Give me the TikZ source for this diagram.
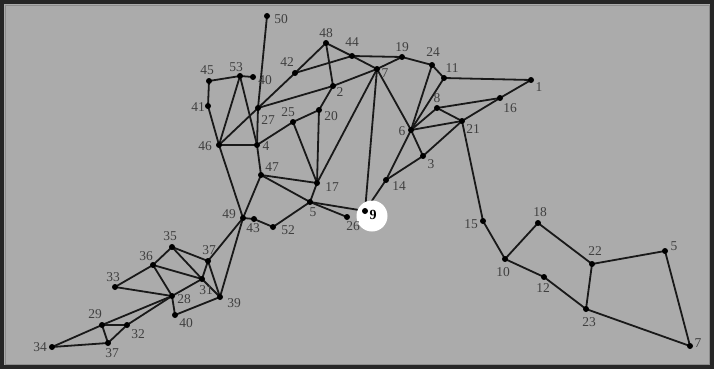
\documentclass[tikz,border=0pt]{standalone}
\usepackage{fontspec}
\setmainfont{Liberation Serif}
\pgfdeclarelayer{edgel}
\pgfsetlayers{edgel,main}
\definecolor{bgc}{rgb}{0.67,0.67,0.67}
\begin{document}
\begin{tikzpicture}[x=1pt,y=-1pt,
  dot/.style={circle,fill=black,inner sep=0pt,minimum size=6pt},
  lbl/.style={font=\fontsize{13.5}{13.5}\selectfont,text=black!75,inner sep=0pt},
  edge/.style={line width=1.8pt,black!90}]
\useasboundingbox (0,0) rectangle (714,369);
\begin{pgfonlayer}{edgel}
\fill[bgc] (0,0) rectangle (714,369);
\draw[line width=4pt,black!85] (2,2) rectangle (712,367);
\draw[line width=0.6pt,black!45] (5,5) rectangle (709,364);
\end{pgfonlayer}
% white disc of node 9
\node[circle,fill=white,minimum size=31pt,inner sep=0pt] (c9) at (372,216) {};
% nodes
\foreach \n/\x/\y in {50/267/16,48/326/43,44/352/56,42/295/73,45/209/81,53/240/76,
  40a/253/77,41/208/106,27/258/108,2/333/86,25/293/122,20/319/110,46/219/145,
  4/257/145,47/261/175,17/317/183,5/310/202,9/365/211,26/347/217,49/243/218,
  43/254/219,52/273/227,14/386/180,7/377/69,19/402/57,24/432/65,11/444/78,
  6/411/130,3/423/156,8/437/108,21/462/121,16/500/98,1/531/80,15/483/221,
  18/538/223,10/505/259,12/544/277,22/592/264,23/586/309,5r/665/251,7r/690/346,
  35/172/247,36/153/265,37a/208/261,31/202/279,28/172/296,39/220/297,33/115/287,
  40b/175/315,29/102/325,32/127/325,37b/108/343,34/52/347}
  {\node[dot] (n\n) at (\x,\y) {};}
% labels
\foreach \n/\t/\x/\y in {50/50/281/19,48/48/326/33,44/44/352/42,42/42/287/62,
  45/45/207/70,53/53/236/67,40a/40/265/80,41/41/198/107,27/27/268/120,2/2/340/92,
  25/25/288/112,20/20/331/116,46/46/205/146,4/4/266/146,47/47/272/167,
  17/17/332/187,5/5/313/212,26/26/353/226,49/49/229/214,43/43/253/228,
  52/52/288/230,14/14/399/186,7/7/385/73,19/19/402/47,24/24/433/52,11/11/452/68,
  6/6/402/131,3/3/431/164,8/8/437/98,21/21/473/129,16/16/510/108,1/1/539/87,
  15/15/471/224,18/18/540/212,10/10/503/272,12/12/543/288,22/22/595/251,
  23/23/589/322,5r/5/674/246,7r/7/698/343,35/35/170/236,36/36/146/256,
  37a/37/209/250,31/31/206/290,28/28/184/299,39/39/234/303,33/33/113/277,
  40b/40/186/323,29/29/95/314,32/32/138/334,37b/37/112/353,34/34/40/347}
  {\node[lbl] (l\n) at (\x,\y) {\t};}
\node[lbl,font=\fontsize{14}{14}\selectfont\bfseries,text=black] (l9) at (373,215) {9};
% edges
\begin{pgfonlayer}{edgel}
\foreach \a/\b in {50/27,27/4,53/40a,45/53,45/41,41/46,53/46,53/4,46/4,46/27,
  27/42,42/48,42/44,48/44,48/2,2/7,27/2,2/20,25/20,4/25,25/17,20/17,44/7,44/19,
  7/19,19/24,24/11,11/1,1/16,16/21,16/8,8/21,11/6,24/6,7/6,8/6,6/21,6/3,3/21,
  14/6,14/3,14/9,7/9,5/9,5/26,17/5,7/17,47/17,47/5,4/47,47/49,46/49,5/52,52/43,
  43/49,49/39,49/37a,35/36,35/37a,35/31,36/31,36/28,36/33,33/28,37a/31,37a/39,
  31/39,31/28,28/40b,40b/39,28/29,28/32,29/32,32/37b,29/37b,34/37b,34/29,
  21/15,15/10,10/18,18/22,10/12,12/23,22/23,22/5r,5r/7r,23/7r}
  {\draw[edge] (n\a.center) -- (n\b.center);}
\end{pgfonlayer}
\end{tikzpicture}
\end{document}
